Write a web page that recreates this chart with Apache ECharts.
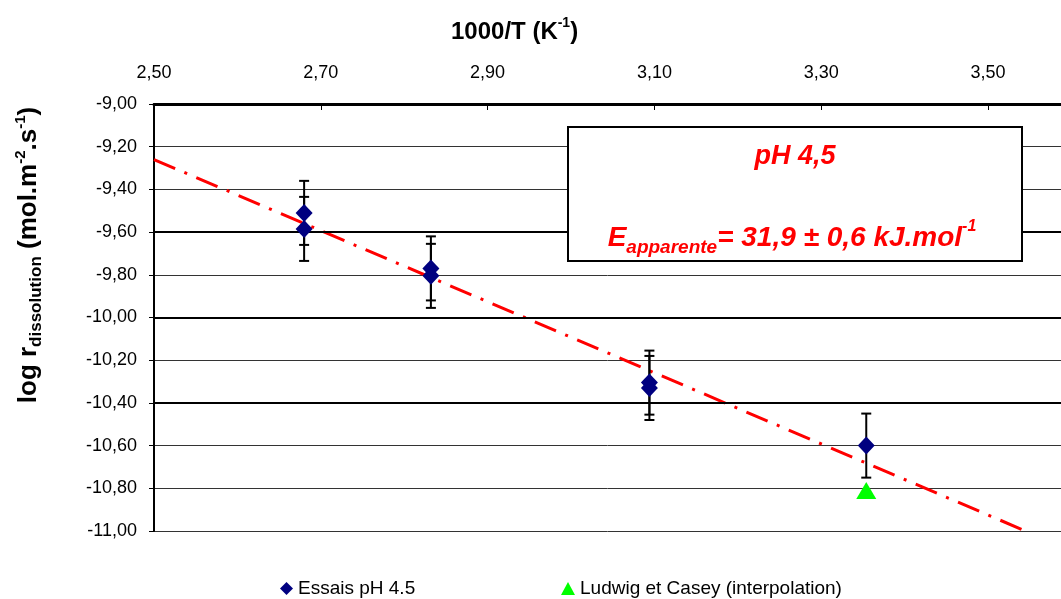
<!DOCTYPE html>
<html><head><meta charset="utf-8">
<script src="https://cdn.jsdelivr.net/npm/echarts@6.0.0/dist/echarts.min.js"></script>
<style>html,body{margin:0;padding:0;background:#fff}#c{width:1061px;height:599px}</style>
</head><body><div id="c"></div>
<script>
// ---- data ----
const essaisX   = [2.680, 2.680, 2.832, 2.832, 3.094, 3.094, 3.354];
const essaisY   = [-9.510, -9.585, -9.770, -9.805, -10.305, -10.330, -10.600];
const essaisErr = [0.15, 0.15, 0.15, 0.15, 0.15, 0.15, 0.15];
const ludwigX   = [3.354];
const ludwigY   = [-10.81];
const trendX    = [2.50, 3.545];
const trendY    = [-9.26, -11.00];
const thickGridY = [-9.6, -10.0, -10.4];
const seriesNames = ['Essais pH 4.5', 'Ludwig et Casey (interpolation)'];
const xTitle = '1000/T (K';
const yTitle = ['log r', 'dissolution', ' (mol.m', '-2', '.s', '-1', ')'];
const boxLine1 = 'pH 4,5';
const boxLine2 = ['E', 'apparente', '= 31,9 ± 0,6 kJ.mol', '-1'];

const FONT = 'Arial, "Liberation Sans", sans-serif';
const fmt = v => v.toFixed(2).replace('.', ',');

function rs(size, weight, style, color, va, lh) {
  return {fontFamily: FONT, fontSize: size, fontWeight: weight, fontStyle: style, color: color, fill: color, verticalAlign: va, lineHeight: lh};
}

const chart = echarts.init(document.getElementById('c'), null, {renderer: 'canvas'});
const option = {
  backgroundColor: '#fff',
  animation: false,
  textStyle: {fontFamily: FONT},
  title: {
    text: '{b|' + xTitle + '}{s|-1}{b|)}',
    left: 446, top: 11,
    textStyle: {rich: {
      b: rs(24, 'bold', 'normal', '#000', 'bottom', 28),
      s: rs(14, 'bold', 'normal', '#000', 'top', 28)
    }}
  },
  grid: {left: 154, top: 104, right: 0, bottom: 68, containLabel: false},
  xAxis: {
    type: 'value', position: 'top', min: 2.5, max: 3.5875, interval: 0.2,
    axisLine: {show: true, lineStyle: {color: '#000', width: 3}},
    axisTick: {show: true, inside: true, length: 6, lineStyle: {color: '#000', width: 1}},
    axisLabel: {formatter: fmt, fontSize: 18, color: '#000', margin: 22, showMaxLabel: false, fontFamily: FONT},
    splitLine: {show: false}
  },
  yAxis: {
    type: 'value', min: -11, max: -9, interval: 0.2,
    axisLine: {show: true, lineStyle: {color: '#000', width: 2}},
    axisTick: {show: true, inside: false, length: 5, lineStyle: {color: '#000', width: 1}},
    axisLabel: {formatter: fmt, fontSize: 18, color: '#000', margin: 17, fontFamily: FONT},
    splitLine: {show: true, lineStyle: {color: '#333', width: 1}}
  },
  legend: [
    {data: [{name: seriesNames[0], icon: 'diamond'}], left: 275, top: 574, itemWidth: 13, itemHeight: 13, itemGap: 3,
     textStyle: {fontSize: 19, color: '#000', fontFamily: FONT}},
    {data: [{name: seriesNames[1], icon: 'triangle'}], left: 556, top: 574, itemWidth: 14, itemHeight: 13, itemGap: 2,
     textStyle: {fontSize: 19, color: '#000', fontFamily: FONT}}
  ],
  series: [
    {
      name: 'trend', type: 'line', data: trendX.map((x, i) => [x, trendY[i]]),
      showSymbol: false, symbol: 'none', silent: true, z: 3,
      lineStyle: {color: '#ff0000', width: 3, type: [23, 10, 3, 10], opacity: 1},
      markLine: {
        silent: true, symbol: 'none', label: {show: false},
        lineStyle: {color: '#000', width: 2, type: 'solid', opacity: 1},
        data: thickGridY.map(v => ({yAxis: v}))
      }
    },
    {
      name: 'errors', type: 'custom', z: 4,
      data: essaisX.map((x, i) => [x, essaisY[i], essaisErr[i]]),
      renderItem: function (params, api) {
        const x = api.value(0), y = api.value(1), e = api.value(2);
        const t = api.coord([x, y + e]), b = api.coord([x, y - e]);
        const hw = 5, st = {stroke: '#000', lineWidth: 2};
        return {type: 'group', children: [
          {type: 'line', shape: {x1: t[0], y1: t[1], x2: b[0], y2: b[1]}, style: st},
          {type: 'line', shape: {x1: t[0] - hw, y1: t[1], x2: t[0] + hw, y2: t[1]}, style: st},
          {type: 'line', shape: {x1: b[0] - hw, y1: b[1], x2: b[0] + hw, y2: b[1]}, style: st}
        ]};
      }
    },
    {
      name: seriesNames[0], type: 'scatter', z: 5,
      data: essaisX.map((x, i) => [x, essaisY[i]]),
      symbol: 'diamond', symbolSize: [17, 18],
      itemStyle: {color: '#000080', opacity: 1}
    },
    {
      name: seriesNames[1], type: 'scatter', z: 5,
      data: ludwigX.map((x, i) => [x, ludwigY[i]]),
      symbol: 'triangle', symbolSize: [20, 17],
      itemStyle: {color: '#00ff00', opacity: 1}
    }
  ],
  graphic: [
    {
      type: 'text', x: 29, y: 255, rotation: Math.PI / 2, z: 10,
      style: {
        text: '{b|' + yTitle[0] + '}{sub|' + yTitle[1] + '}{b|' + yTitle[2] + '}{sup|' + yTitle[3] + '}{b|' + yTitle[4] + '}{sup|' + yTitle[5] + '}{b|' + yTitle[6] + '}',
        align: 'center', verticalAlign: 'middle',
        rich: {
          b: rs(26, 'bold', 'normal', '#000', 'middle', 32),
          sub: rs(17, 'bold', 'normal', '#000', 'bottom', 32),
          sup: rs(15, 'bold', 'normal', '#000', 'top', 32)
        }
      }
    },
    {
      type: 'rect', z: 10,
      shape: {x: 568, y: 127, width: 454, height: 134},
      style: {fill: '#fff', stroke: '#000', lineWidth: 2}
    },
    {
      type: 'text', z: 11, x: 795, y: 157,
      style: {text: boxLine1, fontFamily: FONT, fontSize: 27, fontWeight: 'bold', fontStyle: 'italic', fill: '#ff0000', align: 'center', verticalAlign: 'middle'}
    },
    {
      type: 'text', z: 11, x: 792, y: 238,
      style: {
        text: '{e|' + boxLine2[0] + '}{sub|' + boxLine2[1] + '}{e|' + boxLine2[2] + '}{sup|' + boxLine2[3] + '}',
        align: 'center', verticalAlign: 'middle',
        rich: {
          e: rs(28, 'bold', 'italic', '#ff0000', 'middle', 38),
          sub: rs(19, 'bold', 'italic', '#ff0000', 'bottom', 38),
          sup: rs(16, 'bold', 'italic', '#ff0000', 'top', 38)
        }
      }
    }
  ]
};
chart.setOption(option);
</script>
</body></html>
